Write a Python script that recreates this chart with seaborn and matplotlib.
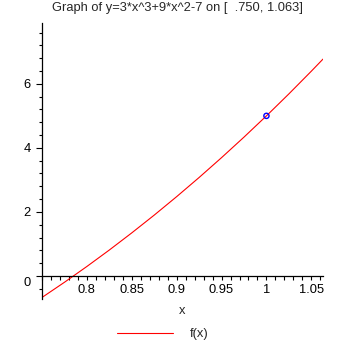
import matplotlib
matplotlib.use("Agg")
import matplotlib.pyplot as plt
import seaborn as sns
import pandas as pd
import numpy as np
from matplotlib.ticker import MultipleLocator, FixedLocator
from matplotlib.transforms import ScaledTranslation

x_vals = [0.75, 0.775, 0.8, 0.825, 0.85, 0.875, 0.9, 0.925, 0.95, 0.975, 1.0, 1.025, 1.05, 1.063]
y_vals = [-0.672, -0.198, 0.296, 0.810, 1.345, 1.900, 2.477, 3.075, 3.695, 4.336, 5.0, 5.686, 6.395, 6.773]
point_x = [1.0]
point_y = [5.0]
x_major = [0.8, 0.85, 0.9, 0.95, 1.0, 1.05]
x_labels = ["0.8", "0.85", "0.9", "0.95", "1", "1.05"]
y_major = [0, 2, 4, 6]
y_labels = ["0", "2", "4", "6"]
title = "Graph of y=3*x^3+9*x^2-7 on [  .750, 1.063]"
legend_label = "f(x)"

sns.set_style("white")
plt.rcParams["font.family"] = ["Liberation Sans", "DejaVu Sans"]

W = 355
FS = 9.3
fig = plt.figure(figsize=(3.55, 3.55), dpi=100)
ax = fig.add_axes([42 / W, (W - 299) / W, (323 - 42) / W, (299 - 23) / W])

df = pd.DataFrame({"x": x_vals, "y": y_vals})
sns.lineplot(data=df, x="x", y="y", ax=ax, color="#ff0000", linewidth=0.8,
             label=legend_label)
if ax.get_legend() is not None:
    ax.get_legend().remove()
pdf = pd.DataFrame({"x": point_x, "y": point_y})
sns.scatterplot(data=pdf, x="x", y="y", ax=ax, s=14, facecolor="none",
                edgecolor="#0000ff", linewidth=1.0, zorder=5, legend=False)

ax.set_xlim(0.75, 1.063)
ax.set_ylim(-0.72, 7.9)

for s in ["top", "right"]:
    ax.spines[s].set_visible(False)
ax.spines["bottom"].set_position(("data", 0))
ax.spines["left"].set_linewidth(0.9)
ax.spines["bottom"].set_linewidth(0.9)
ax.spines["left"].set_color("black")
ax.spines["bottom"].set_color("black")

ax.xaxis.set_major_locator(FixedLocator(x_major))
ax.set_xticklabels(x_labels)
ax.xaxis.set_minor_locator(MultipleLocator(0.01))
ax.yaxis.set_major_locator(FixedLocator(y_major))
ax.set_yticklabels(y_labels)
ax.yaxis.set_minor_locator(MultipleLocator(0.4))

ax.tick_params(axis="x", which="both", direction="out", length=3, width=0.8,
               labelsize=FS, pad=3, bottom=True, colors="black")
ax.tick_params(axis="y", which="both", direction="out", length=2.5, width=0.8,
               labelsize=FS, pad=4, left=True, colors="black")
ax.tick_params(axis="y", which="major", length=4)

# Maple draws the "0" label a little below the horizontal axis
zero_lab = ax.get_yticklabels()[0]
zero_lab.set_transform(zero_lab.get_transform() + ScaledTranslation(0, -6 / 100, fig.dpi_scale_trans))

ax.set_xlabel("")
ax.set_ylabel("")
ax.grid(False)

fig.text(177 / W, 1 - 8 / W, title, ha="center", va="center", fontsize=FS)
fig.text(182 / W, 1 - 311 / W, "x", ha="center", va="center", fontsize=FS)

line = ax.get_lines()[0]
leg = fig.legend([line], [legend_label], loc="center", bbox_to_anchor=(163 / W, 1 - 334 / W),
                 frameon=False, handlelength=4.3, handletextpad=1.3, fontsize=FS)

fig.savefig("out.png", dpi=100, facecolor="white")
